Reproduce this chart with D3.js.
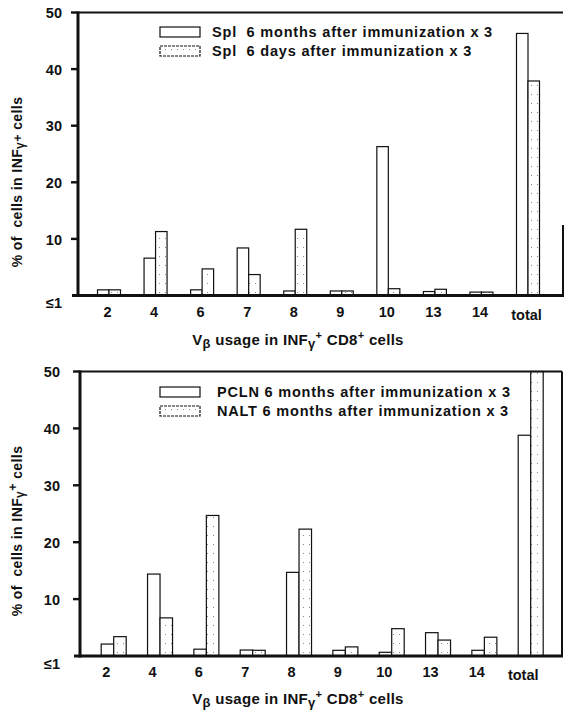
<!DOCTYPE html>
<html>
<head>
<meta charset="utf-8">
<script src="https://cdn.jsdelivr.net/npm/d3@7"></script>
<style>
  body { margin: 0; background: #fff; }
  text { font-family: "Liberation Sans", Arial, sans-serif; font-weight: bold; fill: #111; white-space: pre; }
</style>
</head>
<body>
<svg id="fig" width="565" height="712"></svg>
<script>
// V-beta families on the x axis
var categories = ["2", "4", "6", "7", "8", "9", "10", "13", "14", "total"];
var yTicks = [0, 10, 20, 30, 40, 50];
var yTickLabels = ["≤1", "10", "20", "30", "40", "50"];

// top panel: spleen
var spl6Months = [1.0, 6.6, 1.0, 8.4, 0.8, 0.8, 26.3, 0.7, 0.6, 46.3];
var spl6Days   = [1.0, 11.3, 4.7, 3.7, 11.7, 0.8, 1.2, 1.1, 0.6, 37.9];
var legendTop  = ["Spl  6 months after immunization x 3", "Spl  6 days after immunization x 3"];

// bottom panel: PCLN vs NALT
var pcln6Months = [2.1, 14.4, 1.2, 1.05, 14.7, 1.0, 0.65, 4.1, 1.0, 38.8];
var nalt6Months = [3.4, 6.7, 24.7, 1.0, 22.3, 1.6, 4.8, 2.8, 3.3, 50];
var legendBottom = ["PCLN 6 months after immunization x 3", "NALT 6 months after immunization x 3"];

var svg = d3.select("#fig");

// stipple fill used by the second series
var pat = svg.append("defs").append("pattern")
  .attr("id", "dots")
  .attr("patternUnits", "userSpaceOnUse")
  .attr("width", 6).attr("height", 9);
pat.append("rect").attr("width", 6).attr("height", 9).attr("fill", "#fff");
pat.append("rect").attr("x", 3).attr("y", 4).attr("width", 1).attr("height", 1).attr("fill", "#888");

// frame pieces as thin filled rects
function hbar(g, x1, x2, y, w) {
  g.append("rect").attr("x", x1).attr("y", y - w / 2).attr("width", x2 - x1).attr("height", w).attr("fill", "#111");
}
function vbar(g, x, y1, y2, w) {
  g.append("rect").attr("x", x - w / 2).attr("y", y1).attr("width", w).attr("height", y2 - y1).attr("fill", "#111");
}

function panel(o) {
  var g = svg.append("g");
  var y = d3.scaleLinear().domain([0, 50]).range([o.base, o.top]);
  var x = d3.scalePoint().domain(categories).range([o.c0, o.c1]);
  var bw = o.barW;

  // bars, two per category
  o.series.forEach(function (vals, s) {
    g.append("g").selectAll("rect")
      .data(vals)
      .enter().append("rect")
      .attr("x", function (d, i) { return x(categories[i]) - bw + s * bw; })
      .attr("y", function (d) { return y(d); })
      .attr("width", bw)
      .attr("height", function (d) { return o.base - y(d); })
      .attr("fill", s == 0 ? "#fff" : "url(#dots)")
      .attr("stroke", "#111")
      .attr("stroke-width", 1.2);
  });

  // frame
  hbar(g, o.axisX, o.rightX, o.top, 2);
  vbar(g, o.rightX, o.rightTop, o.base, 2);
  hbar(g, o.axisX - 6, o.rightX + 1, o.base, 3);
  vbar(g, o.axisX, o.top - 1, o.base + 1.5, 3);

  // y tick marks
  g.append("g").selectAll("rect")
    .data(yTicks.filter(function (d) { return d > 0; }))
    .enter().append("rect")
    .attr("x", o.axisX - 7).attr("width", 7)
    .attr("y", function (d) { return y(d) - 1.2; }).attr("height", 2.4)
    .attr("fill", "#111");

  // y axis labels
  var ya = g.append("g")
    .attr("transform", "translate(" + o.axisX + ",0)")
    .call(d3.axisLeft(y).tickValues(yTicks)
      .tickFormat(function (d, i) { return yTickLabels[i]; })
      .tickSize(0).tickPadding(o.yPad));
  ya.select(".domain").remove();
  ya.selectAll("line").remove();
  ya.selectAll("text").style("font-size", "14.5px").attr("fill", "#111")
    .attr("dy", function (d) { return d == 0 ? "0.85em" : "0.36em"; });

  // x axis labels
  var xa = g.append("g")
    .attr("transform", "translate(" + o.labelShift + "," + o.base + ")")
    .call(d3.axisBottom(x).tickSize(0).tickPadding(11));
  xa.select(".domain").remove();
  xa.selectAll("line").remove();
  xa.selectAll("text").style("font-size", "14.5px").attr("fill", "#111");
  xa.selectAll(".tick").filter(function (d) { return d == "total"; }).select("text")
    .attr("dy", "0.9em");

  // legend
  o.legend.forEach(function (t, i) {
    var ly = o.legY + i * o.legStep;
    g.append("rect").attr("x", 160).attr("y", ly - 5).attr("width", 40).attr("height", 10)
      .attr("fill", i == 0 ? "#fff" : "url(#dots)")
      .attr("stroke", "#111").attr("stroke-width", 1.2)
      .attr("stroke-dasharray", i == 0 ? null : "3,1");
    g.append("text").attr("x", o.legTextX).attr("y", ly + 5)
      .style("font-size", "14.5px").style("letter-spacing", "0.8px").text(t);
  });

  // axis titles
  var yt = g.append("text")
    .attr("transform", "translate(" + 22 + "," + o.yTitleY + ") rotate(-90)")
    .attr("text-anchor", "middle").style("font-size", "14px").style("letter-spacing", "0.4px");
  yt.append("tspan").text("% of  cells in INF");
  yt.append("tspan").style("font-size", "12px").attr("dy", o.gammaDy).text("γ");
  yt.append("tspan").style("font-size", "12.5px").attr("dy", o.plusDy).text("+");
  yt.append("tspan").attr("dy", -(o.gammaDy + o.plusDy)).text(" cells");

  var xt = g.append("text")
    .attr("x", 298).attr("y", o.xTitleY)
    .attr("text-anchor", "middle").style("font-size", "15px").style("letter-spacing", "0.3px");
  xt.append("tspan").text("V");
  xt.append("tspan").style("font-size", "13px").attr("dy", 3).text("β");
  xt.append("tspan").attr("dy", -3).text(" usage in INF");
  xt.append("tspan").style("font-size", "13px").attr("dy", 3).text("γ");
  xt.append("tspan").style("font-size", "11px").attr("dy", -9).text("+");
  xt.append("tspan").attr("dy", 6).text(" CD8");
  xt.append("tspan").style("font-size", "11px").attr("dy", -6).text("+");
  xt.append("tspan").attr("dy", 6).text(" cells");
}

panel({
  series: [spl6Months, spl6Days], legend: legendTop,
  top: 12.5, base: 295.5, axisX: 78, rightX: 563, rightTop: 225,
  c0: 109, c1: 528, barW: 11.5, labelShift: -2, yPad: 16,
  legY: 32, legStep: 19, legTextX: 212,
  yTitleY: 182, xTitleY: 345, gammaDy: 2, plusDy: -2
});

panel({
  series: [pcln6Months, nalt6Months], legend: legendBottom,
  top: 371.5, base: 656, axisX: 80, rightX: 562, rightTop: 371.5,
  c0: 113.7, c1: 530.7, barW: 12.5, labelShift: -8, yPad: 20,
  legY: 392, legStep: 19, legTextX: 217,
  yTitleY: 531, xTitleY: 704, gammaDy: 2, plusDy: -7
});
</script>
</body>
</html>
